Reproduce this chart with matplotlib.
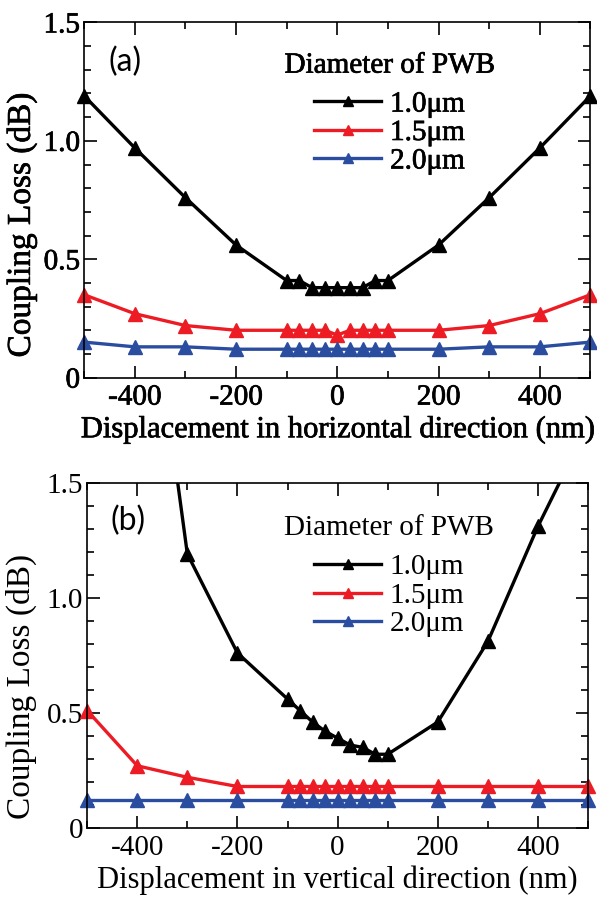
import matplotlib
matplotlib.use("Agg")
import matplotlib.pyplot as plt
import matplotlib.patheffects as pe
from matplotlib.ticker import MultipleLocator, FuncFormatter

plt.rcParams["font.family"] = ["Liberation Serif", "DejaVu Serif"]
plt.rcParams["axes.unicode_minus"] = False

# displacement points (nm)
x_pts = [-500, -400, -300, -200, -100, -75, -50, -25, 0, 25, 50, 75, 100, 200, 300, 400, 500]

# (a) horizontal displacement
h_10 = [1.19, 0.97, 0.76, 0.56, 0.41, 0.41, 0.38, 0.38, 0.38, 0.38, 0.38, 0.41, 0.41, 0.56, 0.76, 0.97, 1.19]
h_15 = [0.35, 0.27, 0.22, 0.20, 0.20, 0.20, 0.20, 0.20, 0.18, 0.20, 0.20, 0.20, 0.20, 0.20, 0.22, 0.27, 0.35]
h_20 = [0.15, 0.13, 0.13, 0.12, 0.12, 0.12, 0.12, 0.12, 0.12, 0.12, 0.12, 0.12, 0.12, 0.12, 0.13, 0.13, 0.15]

# (b) vertical displacement
v_10 = [4.5, 2.8, 1.19, 0.76, 0.56, 0.51, 0.46, 0.42, 0.39, 0.36, 0.35, 0.32, 0.32, 0.46, 0.81, 1.31, 1.75]
v_15 = [0.51, 0.27, 0.22, 0.18, 0.18, 0.18, 0.18, 0.18, 0.18, 0.18, 0.18, 0.18, 0.18, 0.18, 0.18, 0.18, 0.18]
v_20 = [0.12] * 17

labels = ["1.0\u03bcm", "1.5\u03bcm", "2.0\u03bcm"]
colors = ["#000000", "#ED1C24", "#2B4DA0"]
xticks = [-400, -200, 0, 200, 400]

fig = plt.figure(figsize=(5.97, 8.97), dpi=100)
ax_a = fig.add_axes([0.141, 0.579, 0.848, 0.396])
ax_b = fig.add_axes([0.146, 0.077, 0.839, 0.385])

heavy = [pe.withStroke(linewidth=0.5, foreground="black")]


def style_axis(ax, effects, xlabel, ylab_x, ylab_y):
    ax.set_xlim(-500, 500)
    ax.set_ylim(0, 1.5)
    ax.set_xticks(xticks)
    ax.xaxis.set_minor_locator(MultipleLocator(100))
    ax.yaxis.set_major_locator(MultipleLocator(0.5))
    ax.yaxis.set_minor_locator(MultipleLocator(0.1))
    ax.yaxis.set_major_formatter(FuncFormatter(lambda v, p: "0" if v == 0 else f"{v:.1f}"))
    ax.tick_params(which="both", direction="in", top=True, right=True, width=1.2, labelsize=21)
    ax.tick_params(axis="x", pad=5)
    ax.tick_params(axis="y", pad=3)
    ax.tick_params(which="major", length=9)
    ax.tick_params(which="minor", length=5)
    for s in ax.spines.values():
        s.set_linewidth(1.2)
    ax.set_xlabel(xlabel, fontsize=22, labelpad=3)
    ax.set_ylabel("Coupling Loss (dB)", fontsize=24)
    ax.yaxis.set_label_coords(ylab_x, ylab_y)
    if effects:
        for t in ax.get_xticklabels() + ax.get_yticklabels() + [ax.xaxis.label, ax.yaxis.label]:
            t.set_path_effects(effects)


def draw(ax, series, effects, tag, leg_anchor, clip_black):
    for i, (ys, c, lab) in enumerate(zip(series, colors, labels)):
        ax.plot(x_pts, ys, color=c, lw=2.4, marker="^", ms=9.5, label=lab,
                clip_on=(clip_black and i == 0))
    leg = ax.legend(loc="upper center", bbox_to_anchor=leg_anchor, frameon=False,
                    title="Diameter of PWB", handlelength=2.3, handletextpad=0.3,
                    labelspacing=0.07, borderaxespad=0, borderpad=0, markerscale=0.7,
                    prop={"size": 21}, title_fontproperties={"size": 21})
    # extra room between the legend title and its entries
    leg._legend_box.sep = 9
    if effects:
        for t in leg.get_texts() + [leg.get_title()]:
            t.set_path_effects(effects)
    ax.text(0.081, 0.888, tag, transform=ax.transAxes, fontsize=23,
            family=["Lato", "DejaVu Sans"], ha="center", va="center")


style_axis(ax_a, heavy, "Displacement in horizontal direction (nm)", -0.093, 0.43)
draw(ax_a, [h_10, h_15, h_20], heavy, "(a)", (0.603, 0.915), False)

style_axis(ax_b, None, "Displacement in vertical direction (nm)", -0.100, 0.41)
draw(ax_b, [v_10, v_15, v_20], None, "(b)", (0.603, 0.905), True)

fig.savefig("out.png", dpi=100)
